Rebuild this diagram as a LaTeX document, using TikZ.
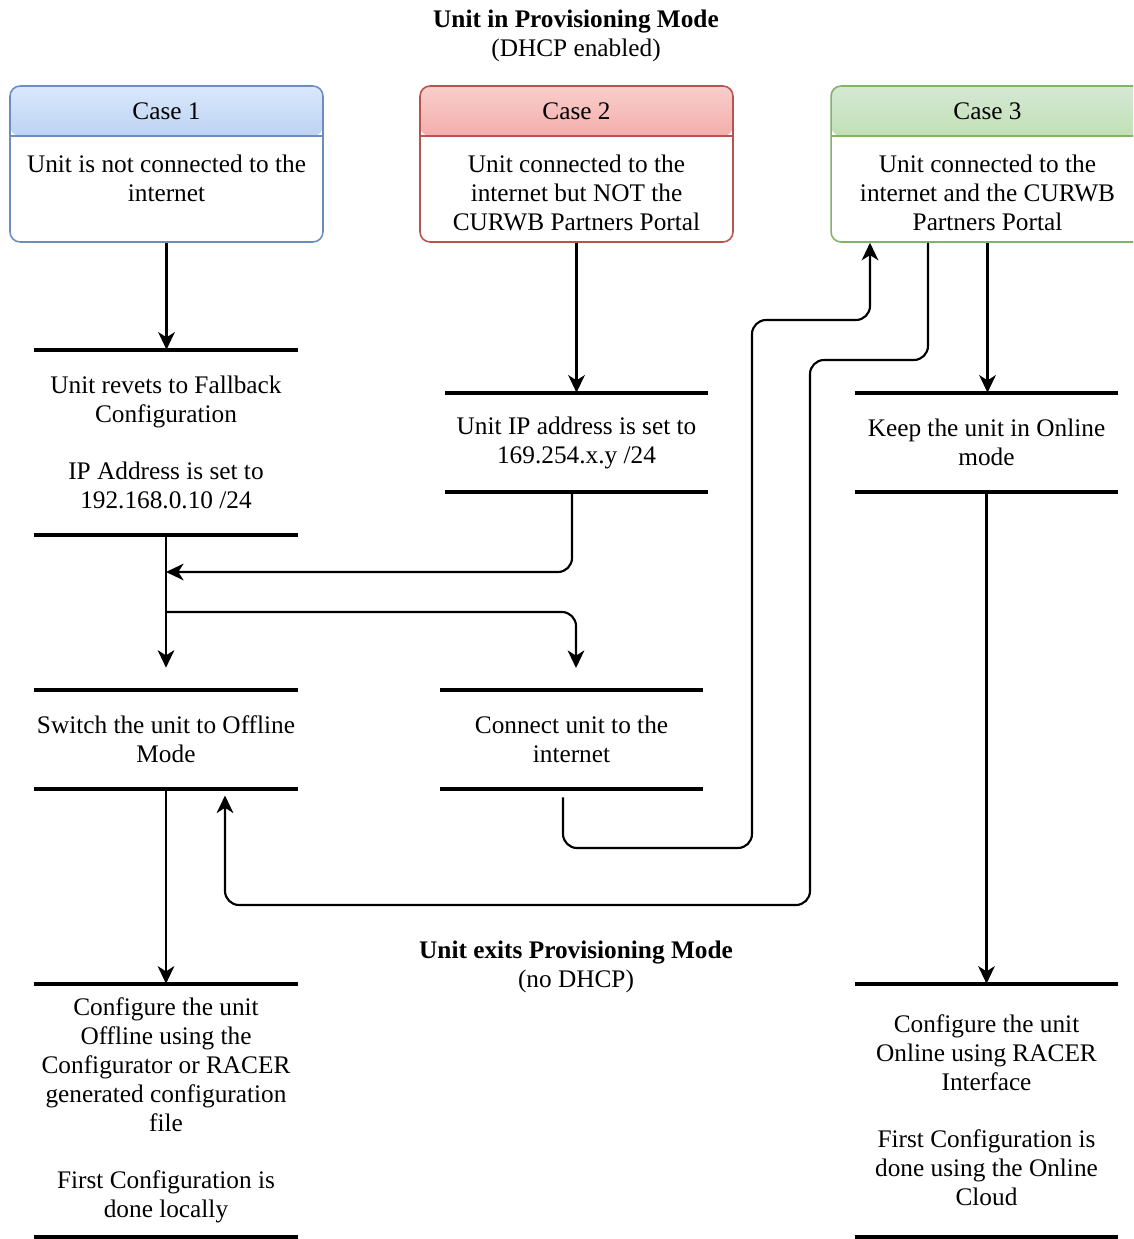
\documentclass[tikz,border=0pt]{standalone}
\usepackage{fontspec}
\setmainfont{Liberation Serif}
\usetikzlibrary{arrows.meta}

\definecolor{c1top}{HTML}{DAE8FC}\definecolor{c1bot}{HTML}{7EA6E0}\definecolor{c1line}{HTML}{6C8EBF}
\definecolor{c2top}{HTML}{F8CECC}\definecolor{c2bot}{HTML}{EA6B66}\definecolor{c2line}{HTML}{B85450}
\definecolor{c3top}{HTML}{D5E8D4}\definecolor{c3bot}{HTML}{97D077}\definecolor{c3line}{HTML}{82B366}

\tikzset{
	bar/.style={line width=2.3pt},
	flow/.style={line width=1.2pt,rounded corners=8pt,-{Stealth[length=10pt,width=9.5pt,inset=3pt]}},
	stage/.style={minimum width=5.25cm,inner sep=0pt,align=center},
	casebox/.style={draw=#1line,line width=0.9pt,fill=white,rounded corners=0.2cm,minimum width=6.26cm,minimum height=3.12cm,
		path picture={
			\shade[top color=#1top,bottom color=#1bot] (path picture bounding box.north west) rectangle ([yshift=-1cm]path picture bounding box.north east);
			\draw[#1line,line width=0.9pt] ([yshift=-1cm]path picture bounding box.north west) -- ([yshift=-1cm]path picture bounding box.north east);
		}}
}

\begin{document}
\begin{tikzpicture}[x=0.02cm,y=-0.02cm,every node/.style={font=\fontsize{14.4}{16.5}\selectfont}]
	\useasboundingbox (0,0) rectangle (1133,1239);
	\clip (0,0) rectangle (1133,1239);
	\node[align=center] (entry) at (576,35.5) {\textbf{Unit in Provisioning Mode}\\(DHCP enabled)};
	\node[align=center] (exit) at (576,966.5) {\textbf{Unit exits Provisioning Mode}\\(no DHCP)};
	% the three cases
	\node[casebox=c1] (case1) at (166.5,164) {};
	\node[casebox=c2] (case2) at (576.5,164) {};
	\node[casebox=c3] (case3) at (987.5,164) {};
	\node (head1) at (166.5,111) {Case 1};
	\node (head2) at (576.5,111) {Case 2};
	\node (head3) at (987.5,111) {Case 3};
	\node[align=center] (text1) at (166.5,178.5) {Unit is not connected to the\\internet};
	\node[align=center] (text2) at (576.5,193) {Unit connected to the\\internet but NOT the\\CURWB Partners Portal};
	\node[align=center] (text3) at (987.5,193) {Unit connected to the\\internet and the CURWB\\Partners Portal};
	% steps
	\node[stage,minimum height=3.7cm] (fallback) at (166,442.5) {Unit revets to Fallback\\Configuration\\[16pt]IP Address is set to\\192.168.0.10 /24};
	\node[stage,minimum height=1.98cm] (linklocal) at (576.5,442.5) {Unit IP address is set to\\169.254.x.y /24};
	\node[stage,minimum height=1.98cm] (online) at (986.5,442.5) {Keep the unit in Online\\mode};
	\node[stage,minimum height=1.98cm] (offline) at (166,739.5) {Switch the unit to Offline\\Mode};
	\node[stage,minimum height=1.98cm] (connect) at (571.5,739.5) {Connect unit to the\\internet};
	\node[stage,minimum height=5.06cm] (localcfg) at (166,1110.5) {Configure the unit\\Offline using the\\Configurator or RACER\\generated configuration\\file\\[16pt]First Configuration is\\done locally};
	\node[stage,minimum height=5.06cm] (cloudcfg) at (986.5,1110.5) {Configure the unit\\Online using RACER\\Interface\\[16pt]First Configuration is\\done using the Online\\Cloud};
	\foreach \n in {fallback,linklocal,online,offline,connect,localcfg,cloudcfg} \draw[bar] (\n.north west) -- (\n.north east) (\n.south west) -- (\n.south east);
	% connectors
	\coordinate (merge) at (166,572);
	\coordinate (split) at (166,612);
	\coordinate (connin) at (576,668);
	\coordinate (loopA) at (752,848);
	\coordinate (up3) at (870,320);
	\coordinate (back) at (810,360);
	\coordinate (backlow) at (225,905);
	\draw[flow] (case1.south) -- (case1.south |- fallback.north);
	\draw[flow] (case2.south) -- (case2.south |- linklocal.north);
	\draw[flow] (case3.south) -- (case3.south |- online.north);
	\draw[flow] (linklocal.south) ++(-4.5,0) |- (merge);
	\draw[flow,shorten >=12.5pt] (fallback.south) -- (offline.north);
	\draw[flow] (split) -| (connin);
	\draw[flow] (connect.south) ++(-8.5,8) |- (loopA) |- (up3) -- (up3 |- case3.south);
	\draw[flow,shorten >=3.5pt] (case3.south) ++(-59.5,0) |- (back) |- (backlow) -- (backlow |- offline.south);
	\draw[flow] (offline.south) -- (localcfg.north);
	\draw[flow] (online.south) -- (cloudcfg.north);
\end{tikzpicture}
\end{document}
